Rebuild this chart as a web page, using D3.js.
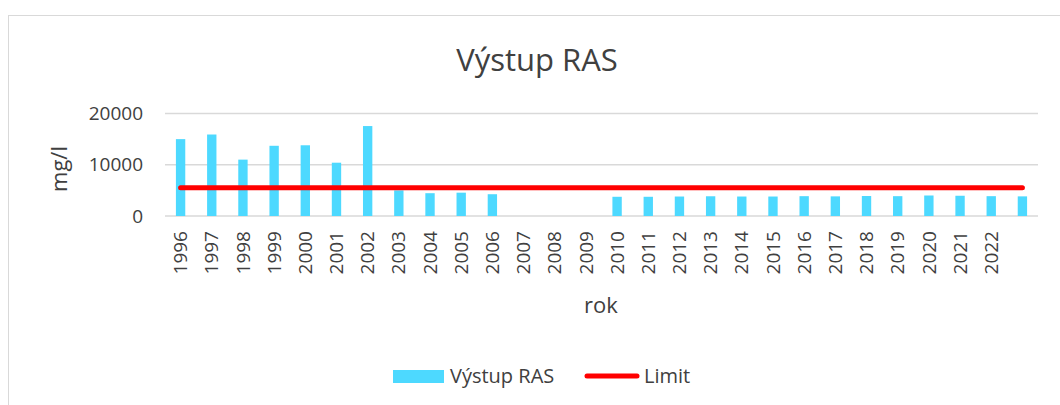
<!DOCTYPE html>
<html>
<head>
<meta charset="utf-8">
<script src="https://cdn.jsdelivr.net/npm/d3@7"></script>
<style>
  body { margin: 0; background: #fff; }
  svg { display: block; font-family: "Open Sans", sans-serif; }
</style>
</head>
<body>
<svg id="chart"></svg>
<script>
// data
const years = ['1996','1997','1998','1999','2000','2001','2002','2003','2004','2005',
  '2006','2007','2008','2009','2010','2011','2012','2013','2014','2015','2016',
  '2017','2018','2019','2020','2021','2022','']
const vystupRAS = [15000, 15900, 11000, 13700, 13800, 10400, 17550, 5000, 4450, 4550,
  4250, null, null, null, 3750, 3750, 3800, 3850, 3800, 3800, 3870,
  3830, 3900, 3870, 4000, 3950, 3870, 3830]
const limit = years.map(() => 5500)
const yTicks = [0, 10000, 20000]

const width = 1060, height = 405
const margin = { top: 113.5, right: 22, bottom: 189, left: 165 }

const svg = d3.select('#chart')
  .attr('width', width)
  .attr('height', height)

// chart frame
svg.append('rect')
  .attr('x', 8.5).attr('y', 15.5)
  .attr('width', 1200).attr('height', 600)
  .attr('fill', '#fff')
  .attr('stroke', '#d9d9d9')

const x = d3.scaleBand()
  .domain(d3.range(years.length))
  .range([margin.left, width - margin.right])

const y = d3.scaleLinear()
  .domain([0, 20000])
  .range([height - margin.bottom, margin.top])

// gridlines
svg.append('g')
  .selectAll('line')
  .data(yTicks)
  .join('line')
  .attr('x1', margin.left).attr('x2', width - margin.right)
  .attr('y1', d => y(d)).attr('y2', d => y(d))
  .attr('stroke', '#d9d9d9')
  .attr('stroke-width', 1.5)

// y axis labels
const yAxis = svg.append('g')
  .attr('transform', `translate(${margin.left - 22}, 0)`)
  .call(d3.axisLeft(y).tickValues(yTicks).tickSize(0).tickPadding(0).tickFormat(d3.format('d')))
yAxis.select('.domain').remove()
yAxis.selectAll('text')
  .attr('fill', '#404040')
  .style('font-size', '19px')
  .style('font-family', '"Open Sans", sans-serif')

// x axis labels
const xAxis = svg.append('g')
  .attr('transform', `translate(0, ${y(0)})`)
  .call(d3.axisBottom(x).tickSize(0).tickFormat(i => years[i]))
xAxis.select('.domain').remove()
xAxis.selectAll('text')
  .attr('fill', '#404040')
  .style('font-size', '19px')
  .style('font-family', '"Open Sans", sans-serif')
  .attr('text-anchor', 'end')
  .attr('dy', '0.35em')
  .attr('transform', 'translate(0, 15) rotate(-90)')
  .attr('x', 0).attr('y', 0)

// bars
const barW = x.bandwidth() * 0.3
svg.append('g')
  .selectAll('rect')
  .data(vystupRAS.map((v, i) => ({ i, v })).filter(d => d.v != null))
  .join('rect')
  .attr('x', d => x(d.i) + (x.bandwidth() - barW) / 2)
  .attr('y', d => y(d.v))
  .attr('width', barW)
  .attr('height', d => y(0) - y(d.v))
  .attr('fill', '#4dd9ff')

// limit line
const line = d3.line()
  .x((d, i) => x(i) + x.bandwidth() / 2)
  .y(d => y(d))
svg.append('path')
  .datum(limit)
  .attr('d', line)
  .attr('fill', 'none')
  .attr('stroke', '#ff0000')
  .attr('stroke-width', 5)
  .attr('stroke-linecap', 'round')

// title
svg.append('text')
  .attr('x', 537).attr('y', 71)
  .attr('text-anchor', 'middle')
  .attr('fill', '#404040')
  .style('font-size', '31px')
  .text('Výstup RAS')

// axis titles
svg.append('text')
  .attr('x', 601).attr('y', 313)
  .attr('text-anchor', 'middle')
  .attr('fill', '#404040')
  .style('font-size', '22px')
  .text('rok')

svg.append('text')
  .attr('transform', 'translate(67, 169) rotate(-90)')
  .attr('text-anchor', 'middle')
  .attr('fill', '#404040')
  .style('font-size', '22px')
  .text('mg/l')

// legend
const legend = svg.append('g')
legend.append('rect')
  .attr('x', 393).attr('y', 370)
  .attr('width', 51).attr('height', 13)
  .attr('fill', '#4dd9ff')
legend.append('text')
  .attr('x', 450).attr('y', 383)
  .attr('fill', '#404040')
  .style('font-size', '20px')
  .text('Výstup RAS')
legend.append('line')
  .attr('x1', 587).attr('x2', 637)
  .attr('y1', 376).attr('y2', 376)
  .attr('stroke', '#ff0000')
  .attr('stroke-width', 5)
  .attr('stroke-linecap', 'round')
legend.append('text')
  .attr('x', 644).attr('y', 383)
  .attr('fill', '#404040')
  .style('font-size', '20px')
  .text('Limit')
</script>
</body>
</html>
